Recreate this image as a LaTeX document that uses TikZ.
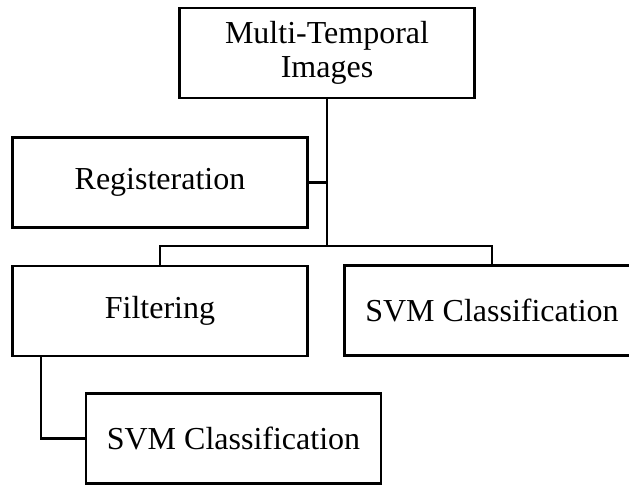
\documentclass[tikz,border=0pt]{standalone}
\usepackage{fontspec}
\setmainfont{Liberation Serif}
\usepackage{tikz}
\usetikzlibrary{positioning}

\begin{document}
\begin{tikzpicture}[
  x=0.5pt, y=-0.5pt,
  stage/.style={draw, line width=1.4pt, minimum width=147.5pt, minimum height=45pt, inner sep=0pt, align=center, font=\fontsize{16}{17}\selectfont},
  conn/.style={line width=1.3pt}
]

  % page frame
  \useasboundingbox (0,0) rectangle (629,485);
  \clip (0,0) rectangle (629,485);

  % 1. Input images and registration
  \node[stage] (imgs) at (327, 53) {Multi-Temporal\\Images};
  \node[stage] (reg) at (160, 182.5) {Registeration};
  \coordinate (bus) at (327, 246);

  \draw[conn] (imgs.south) -- (bus);
  \draw[conn] (reg.east) -- (reg.east -| bus);

  % 2. Two branches
  \node[stage] (filt) at (160, 311) {Filtering};
  \node[stage] (svmA) at (492, 310.5) {SVM Classification};

  \draw[conn] (filt.north) |- (bus) -| (svmA.north);

  % 3. Classification after filtering
  \node[stage] (svmB) at (233.5, 438.5) {SVM Classification};

  \draw[conn] ([xshift=15pt]filt.south west) |- (svmB.west);

\end{tikzpicture}
\end{document}
